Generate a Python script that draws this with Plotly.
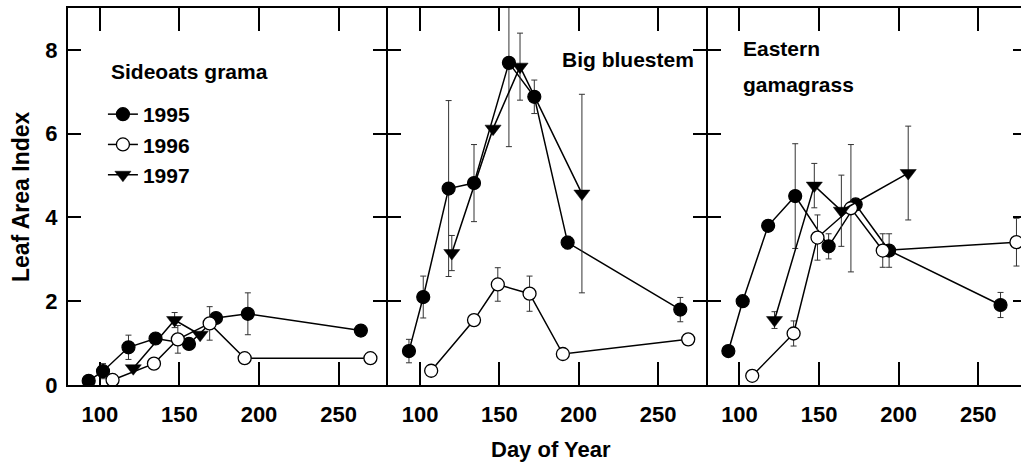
import plotly.graph_objects as go

# ---- data: day of year, leaf area index and its error, per species and year ----
species = ["Sideoats grama", "Big bluestem", "Eastern gamagrass"]
years = ["1995", "1996", "1997"]

# Sideoats grama
sg_1995_day = [93, 102, 118, 135, 156, 173, 193, 264]
sg_1995_lai = [0.10, 0.33, 0.90, 1.11, 0.98, 1.60, 1.70, 1.30]
sg_1995_err = [0, 0.18, 0.29, 0, 0.10, 0, 0.50, 0]
sg_1996_day = [108, 134, 149, 169, 191, 270]
sg_1996_lai = [0.12, 0.51, 1.09, 1.47, 0.64, 0.64]
sg_1996_err = [0, 0, 0.33, 0.40, 0, 0]
sg_1997_day = [121, 147, 163]
sg_1997_lai = [0.40, 1.55, 1.20]
sg_1997_err = [0, 0.18, 0]

# Big bluestem
bb_1995_day = [93, 102, 118, 134, 156, 172, 193, 264]
bb_1995_lai = [0.81, 2.10, 4.69, 4.82, 7.69, 6.88, 3.40, 1.80]
bb_1995_err = [0.28, 0.50, 2.10, 0.92, 2.00, 0.40, 0.15, 0.29]
bb_1996_day = [107, 134, 149, 169, 190, 269]
bb_1996_lai = [0.34, 1.55, 2.40, 2.18, 0.74, 1.09]
bb_1996_err = [0, 0, 0.40, 0.42, 0, 0]
bb_1997_day = [120, 146, 163, 202]
bb_1997_lai = [3.15, 6.12, 7.60, 4.57]
bb_1997_err = [0.42, 0, 0.80, 2.37]

# Eastern gamagrass
eg_1995_day = [93, 102, 118, 135, 156, 173, 194, 264]
eg_1995_lai = [0.81, 2.00, 3.80, 4.51, 3.31, 4.31, 3.21, 1.91]
eg_1995_err = [0, 0, 0, 1.25, 0.30, 0, 0.40, 0.30]
eg_1996_day = [108, 134, 149, 170, 190, 274]
eg_1996_lai = [0.22, 1.23, 3.52, 4.22, 3.21, 3.41]
eg_1996_err = [0, 0.30, 0.54, 1.52, 0.40, 0.57]
eg_1997_day = [122, 147, 164, 206]
eg_1997_lai = [1.55, 4.76, 4.16, 5.06]
eg_1997_err = [0.20, 0.53, 0.85, 1.12]

x_ticks = [100, 150, 200, 250]
y_ticks = [0, 2, 4, 6, 8]

panels = [
    [(sg_1995_day, sg_1995_lai, sg_1995_err),
     (sg_1996_day, sg_1996_lai, sg_1996_err),
     (sg_1997_day, sg_1997_lai, sg_1997_err)],
    [(bb_1995_day, bb_1995_lai, bb_1995_err),
     (bb_1996_day, bb_1996_lai, bb_1996_err),
     (bb_1997_day, bb_1997_lai, bb_1997_err)],
    [(eg_1995_day, eg_1995_lai, eg_1995_err),
     (eg_1996_day, eg_1996_lai, eg_1996_err),
     (eg_1997_day, eg_1997_lai, eg_1997_err)],
]

FONT = "Liberation Sans, Arial, Helvetica, sans-serif"

# marker style per year
year_marker = {
    "1995": dict(symbol="circle", size=13, color="black", line=dict(color="black", width=1.2)),
    "1996": dict(symbol="circle", size=13, color="white", line=dict(color="black", width=1.3)),
    "1997": dict(symbol="triangle-down", size=14, color="black", line=dict(color="black", width=0.5)),
}

# page / plot geometry in pixels
FIG_W, FIG_H = 1030, 468
PLOT_L, PLOT_T, PLOT_R, PLOT_B = 68, 8, 1028, 385
PW, PH = PLOT_R - PLOT_L, PLOT_B - PLOT_T
# panel extents; a 2px gap lets neighbouring frame lines fall on the same pixels
panel_px = [(68, 387), (389, 707), (709, 1028)]


def px_x(px):
    return (px - PLOT_L) / PW


def px_y(py):
    return (PLOT_B - py) / PH


fig = go.Figure()

axis_common = dict(
    showline=True, linewidth=2, linecolor="black", mirror="ticks",
    ticks="inside", tickcolor="black", tickwidth=2,
    showgrid=False, zeroline=False,
    tickfont=dict(family=FONT, size=22, color="black", weight="bold"),
)

layout_axes = {}
for i, (series, (p0, p1)) in enumerate(zip(panels, panel_px), start=1):
    sfx = "" if i == 1 else str(i)
    xa, ya = "x" + sfx, "y" + sfx
    for yr, (days, lai, err) in zip(years, series):
        fig.add_trace(
            go.Scatter(
                x=days, y=lai, mode="lines+markers", name=yr,
                legendgroup=yr, showlegend=(i == 1),
                xaxis=xa, yaxis=ya,
                line=dict(color="black", width=1.5),
                marker=year_marker[yr],
                error_y=dict(type="data", array=err, visible=True,
                             color="#333333", thickness=1, width=3),
            )
        )
    layout_axes["xaxis" + sfx] = dict(
        domain=[px_x(p0), px_x(p1)], anchor=ya, range=[80, 280],
        tickvals=x_ticks, ticklen=23, ticklabelstandoff=9, **axis_common)
    layout_axes["yaxis" + sfx] = dict(
        domain=[0, 1], anchor=xa, range=[0, 9], tickvals=y_ticks, ticklen=13,
        showticklabels=(i == 1), ticklabelstandoff=4, **axis_common)

fig.update_layout(**layout_axes)

title_font = dict(family=FONT, size=21, color="black", weight="bold")
annotations = [
    dict(text=species[0], x=px_x(109), y=px_y(72)),
    dict(text=species[1], x=px_x(561), y=px_y(59)),
    dict(text="Eastern", x=px_x(742), y=px_y(49)),
    dict(text="gamagrass", x=px_x(742), y=px_y(84)),
]
for a in annotations:
    fig.add_annotation(xref="paper", yref="paper", xanchor="left", yanchor="middle",
                       showarrow=False, font=title_font, **a)

fig.add_annotation(text="Day of Year", xref="paper", yref="paper",
                   x=px_x(552), y=px_y(449), xanchor="center", yanchor="middle",
                   showarrow=False, font=dict(family=FONT, size=22, color="black", weight="bold"))
fig.add_annotation(text="Leaf Area Index", xref="paper", yref="paper",
                   x=px_x(21), y=px_y(197), xanchor="center", yanchor="middle",
                   textangle=-90, showarrow=False,
                   font=dict(family=FONT, size=23, color="black", weight="bold"))

fig.update_layout(
    width=FIG_W, height=FIG_H,
    margin=dict(l=PLOT_L, r=FIG_W - PLOT_R, t=PLOT_T, b=FIG_H - PLOT_B),
    paper_bgcolor="white", plot_bgcolor="white",
    font=dict(family=FONT, color="black"),
    legend=dict(x=px_x(103), y=px_y(94), xanchor="left", yanchor="top",
                bgcolor="rgba(0,0,0,0)",
                font=dict(family=FONT, size=21, color="black", weight="bold"),
                tracegroupgap=0),
)

fig.write_html(
    "out.html",
    post_script="document.documentElement.style.overflow='hidden';"
                "document.body.style.overflow='hidden';",
)
